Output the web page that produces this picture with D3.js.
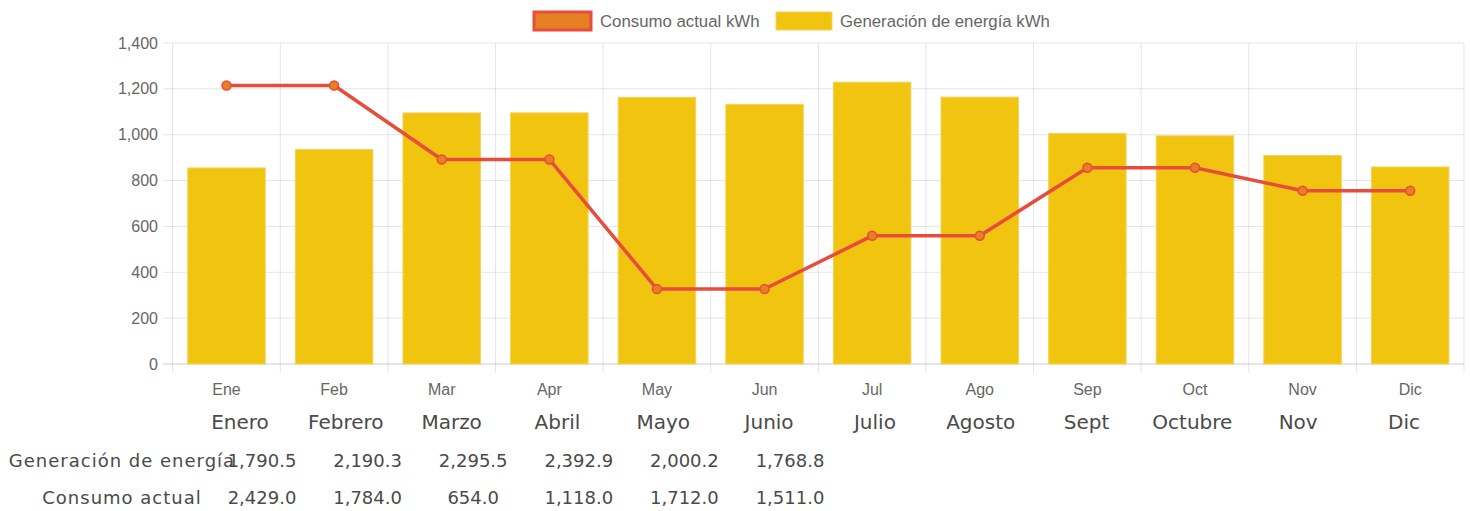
<!DOCTYPE html>
<html lang="es">
	<head>
		<meta charset="utf-8">
		<title>Consumo vs generación</title>
		<style type="text/css">
			body { margin: 0; background: #fff; }
		</style>
	</head>
	<body>
		<script src="https://cdn.jsdelivr.net/npm/d3@7"></script>
		<script type="text/javascript">
			//Width and height
			var w = 1470;
			var h = 511;

			//Data
			var meses = ["Ene", "Feb", "Mar", "Apr", "May", "Jun", "Jul", "Ago", "Sep", "Oct", "Nov", "Dic"];
			var generacion = [855, 935.5, 1095, 1095.3, 1163, 1132.5, 1229, 1163.9, 1005, 995.2, 909.5, 859.3];
			var consumo = [1214.5, 1214.5, 892, 892, 327, 327, 559, 559, 856, 856, 755.5, 755.5];
			var yTicks = [0, 200, 400, 600, 800, 1000, 1200, 1400];

			var nombres = ["Enero", "Febrero", "Marzo", "Abril", "Mayo", "Junio", "Julio", "Agosto", "Sept", "Octubre", "Nov", "Dic"];
			var filaEtiquetas = ["Generación de energía", "Consumo actual"];
			var genBimestral = ["1,790.5", "2,190.3", "2,295.5", "2,392.9", "2,000.2", "1,768.8"];
			var conBimestral = ["2,429.0", "1,784.0", "654.0", "1,118.0", "1,712.0", "1,511.0"];

			var chartFont = "'Liberation Sans', Arial, sans-serif";
			var tableFont = "'DejaVu Sans', sans-serif";

			//Scales
			var xScale = d3.scaleBand()
						   .domain(meses)
						   .range([172.7, 1464]);
			var yScale = d3.scaleLinear()
						   .domain([0, 1400])
						   .range([364, 43]);

			var svg = d3.select("body")
						.append("svg")
						.attr("width", w)
						.attr("height", h);

			//Grid
			var bounds = meses.map(function(m) { return xScale(m); }).concat([xScale.range()[1]]);
			svg.selectAll("line.vgrid")
			   .data(bounds)
			   .enter()
			   .append("line")
			   .attr("x1", function(d) { return d; })
			   .attr("x2", function(d) { return d; })
			   .attr("y1", 43)
			   .attr("y2", 373)
			   .attr("stroke", "rgba(0,0,0,0.1)")
			   .attr("stroke-width", 1);

			svg.selectAll("line.hgrid")
			   .data(yTicks)
			   .enter()
			   .append("line")
			   .attr("x1", 163)
			   .attr("x2", 1464)
			   .attr("y1", function(d) { return yScale(d); })
			   .attr("y2", function(d) { return yScale(d); })
			   .attr("stroke", function(d) { return d === 0 ? "rgba(0,0,0,0.2)" : "rgba(0,0,0,0.1)"; })
			   .attr("stroke-width", 1);

			//Y labels
			svg.selectAll("text.ylab")
			   .data(yTicks)
			   .enter()
			   .append("text")
			   .text(d3.format(","))
			   .attr("x", 158)
			   .attr("y", function(d) { return yScale(d); })
			   .attr("dy", "0.35em")
			   .attr("text-anchor", "end")
			   .attr("font-family", chartFont)
			   .attr("font-size", "16px")
			   .attr("fill", "#666");

			//Bars
			var bw = xScale.bandwidth() * 0.72;
			svg.selectAll("rect.bar")
			   .data(generacion)
			   .enter()
			   .append("rect")
			   .attr("x", function(d, i) { return xScale(meses[i]) + (xScale.bandwidth() - bw) / 2; })
			   .attr("y", function(d) { return yScale(d); })
			   .attr("width", bw)
			   .attr("height", function(d) { return yScale(0) - yScale(d); })
			   .attr("fill", "#f1c40f")
			   .attr("stroke", "#f3d35a")
			   .attr("stroke-width", 1);

			//Line
			var cx = function(d, i) { return xScale(meses[i]) + xScale.bandwidth() / 2; };
			var line = d3.line()
						 .x(cx)
						 .y(function(d) { return yScale(d); });
			svg.append("path")
			   .datum(consumo)
			   .attr("d", line)
			   .attr("fill", "none")
			   .attr("stroke", "#e74c3c")
			   .attr("stroke-width", 3.5)
			   .attr("stroke-linejoin", "round");

			svg.selectAll("circle")
			   .data(consumo)
			   .enter()
			   .append("circle")
			   .attr("cx", cx)
			   .attr("cy", function(d) { return yScale(d); })
			   .attr("r", 4.5)
			   .attr("fill", "#e67e22")
			   .attr("stroke", "#e74c3c")
			   .attr("stroke-width", 1.5);

			//X labels
			svg.selectAll("text.xlab")
			   .data(meses)
			   .enter()
			   .append("text")
			   .text(function(d) { return d; })
			   .attr("x", function(d) { return xScale(d) + xScale.bandwidth() / 2; })
			   .attr("y", 389)
			   .attr("dy", "0.35em")
			   .attr("text-anchor", "middle")
			   .attr("font-family", chartFont)
			   .attr("font-size", "16px")
			   .attr("fill", "#666");

			//Legend
			var legend = svg.append("g");
			legend.append("rect")
				  .attr("x", 534).attr("y", 12).attr("width", 57).attr("height", 18)
				  .attr("fill", "#e67e22").attr("stroke", "#e74c3c").attr("stroke-width", 3);
			legend.append("text")
				  .text("Consumo actual kWh")
				  .attr("x", 600).attr("y", 21).attr("dy", "0.35em")
				  .attr("font-family", chartFont).attr("font-size", "16.8px").attr("fill", "#666");
			legend.append("rect")
				  .attr("x", 776).attr("y", 12).attr("width", 56).attr("height", 18)
				  .attr("fill", "#f1c40f").attr("stroke", "#f3d35a").attr("stroke-width", 1);
			legend.append("text")
				  .text("Generación de energía kWh")
				  .attr("x", 840).attr("y", 21).attr("dy", "0.35em")
				  .attr("font-family", chartFont).attr("font-size", "16.8px").attr("fill", "#666");

			//Month names row
			var nameScale = d3.scalePoint()
							  .domain(nombres)
							  .range([240, 1404]);
			svg.selectAll("text.nombre")
			   .data(nombres)
			   .enter()
			   .append("text")
			   .text(function(d) { return d; })
			   .attr("x", function(d) { return nameScale(d); })
			   .attr("y", 429)
			   .attr("text-anchor", "middle")
			   .attr("font-family", tableFont)
			   .attr("font-size", "20px")
			   .attr("fill", "#4a4a4a");

			//Table
			var colScale = d3.scalePoint()
							 .domain(d3.range(6))
							 .range([262, 790]);
			var rows = [genBimestral, conBimestral];
			var rowY = [467, 504];
			rows.forEach(function(row, r) {
				svg.append("text")
				   .text(filaEtiquetas[r])
				   .attr("x", 122)
				   .attr("y", rowY[r])
				   .attr("text-anchor", "middle")
				   .attr("font-family", tableFont)
				   .attr("font-size", "18px")
				   .attr("letter-spacing", "1px")
				   .attr("fill", "#4a4a4a");
				svg.selectAll("text.c" + r)
				   .data(row)
				   .enter()
				   .append("text")
				   .text(function(d) { return d; })
				   .attr("x", function(d, i) { return colScale(i); })
				   .attr("y", rowY[r])
				   .attr("text-anchor", "middle")
				   .attr("font-family", tableFont)
				   .attr("font-size", "18px")
				   .attr("fill", "#4a4a4a");
			});
		</script>
	</body>
</html>
